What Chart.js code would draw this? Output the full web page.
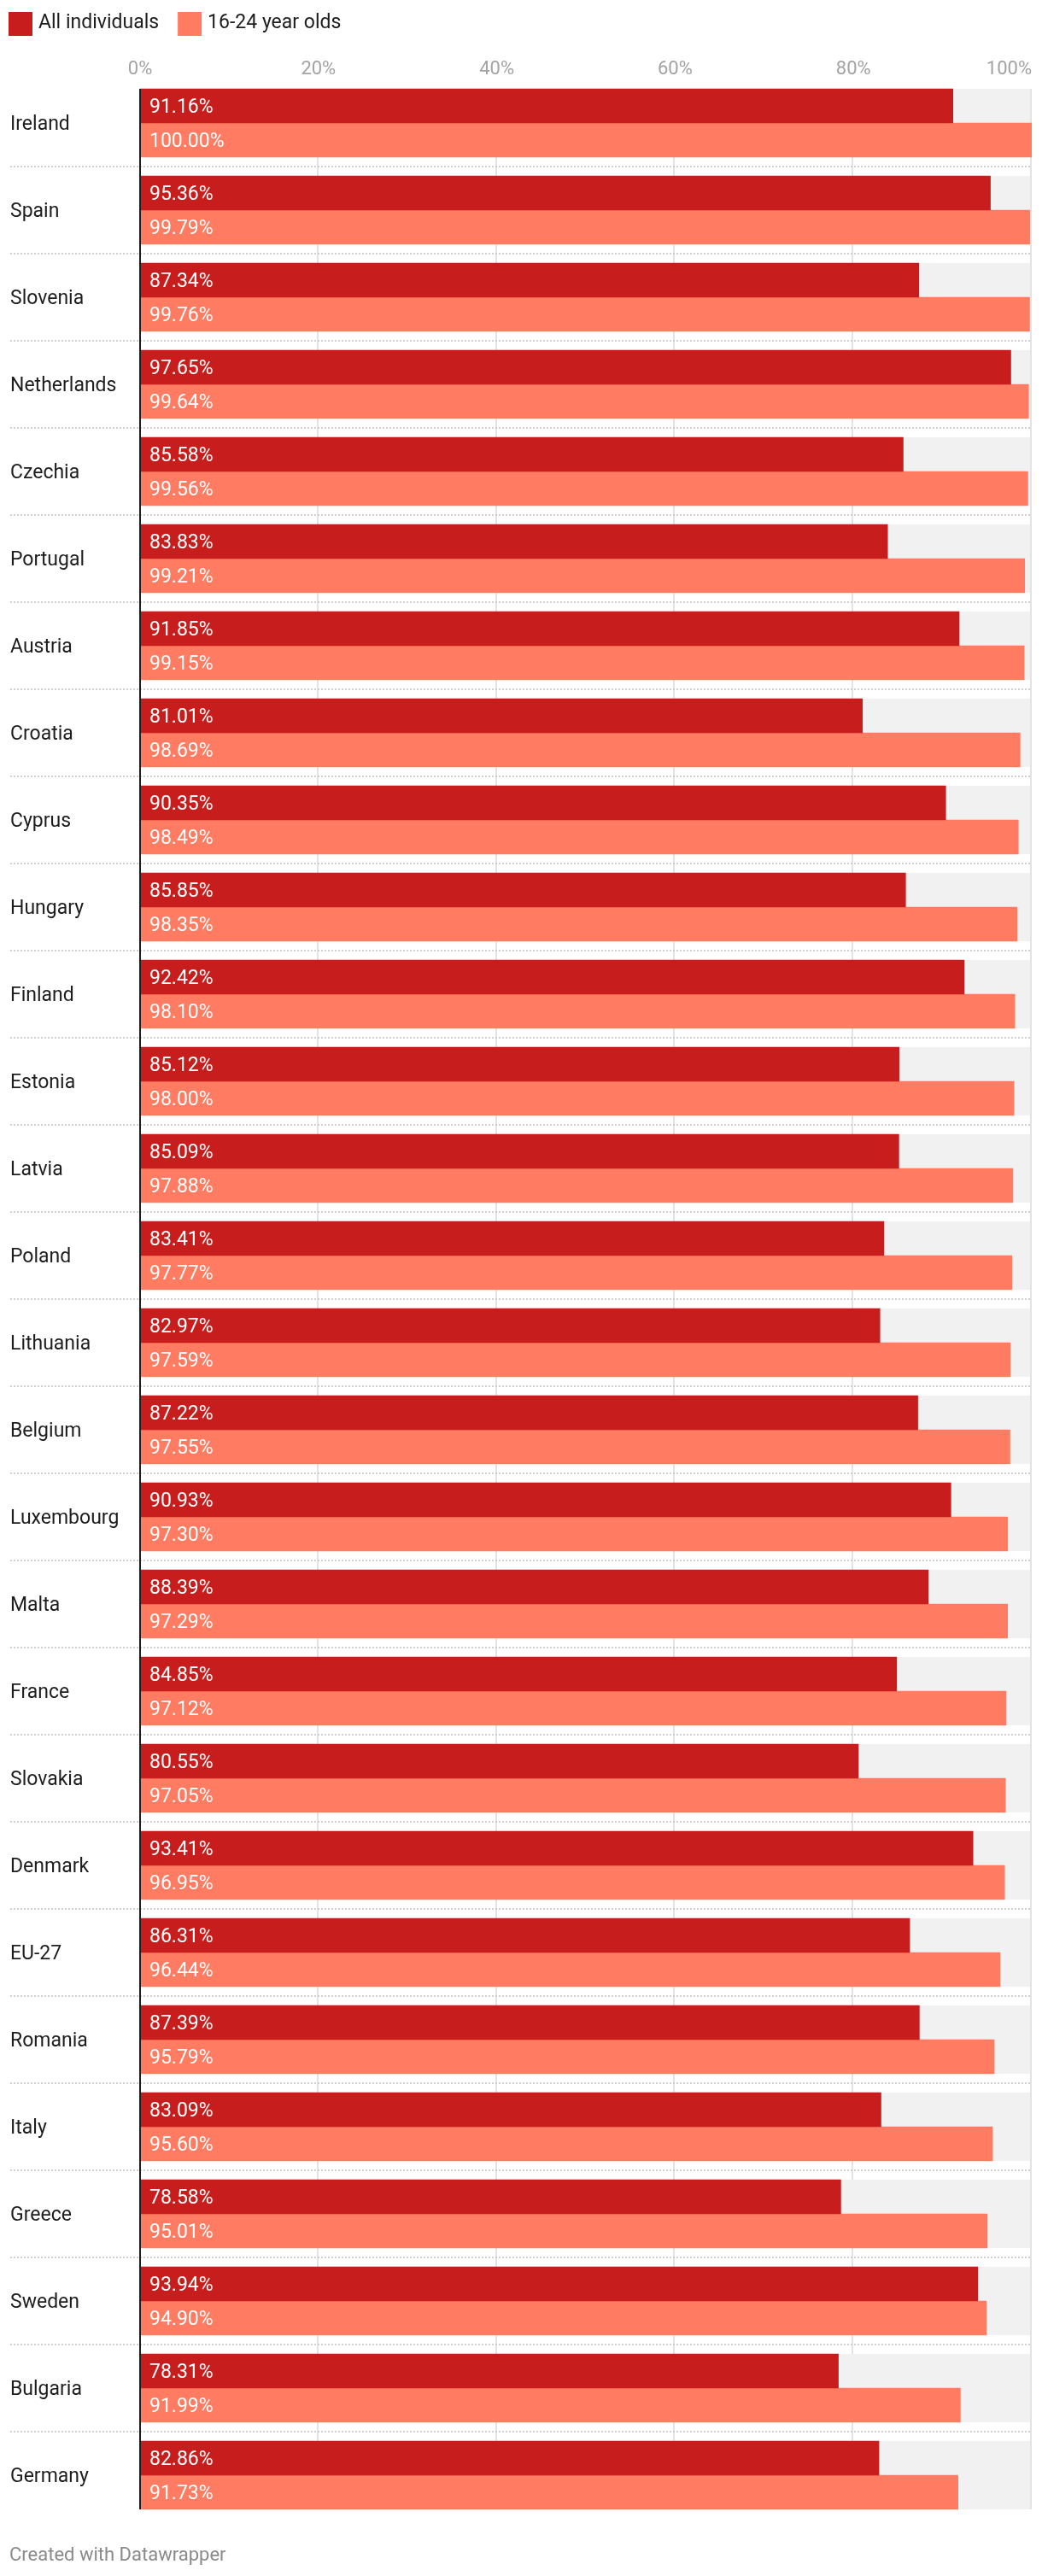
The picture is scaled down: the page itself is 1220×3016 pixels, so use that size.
<!DOCTYPE html>
<html>
<head>
<meta charset="utf-8">
<title>Internet use, all individuals vs 16-24 year olds</title>
<script src="https://cdn.jsdelivr.net/npm/chart.js@4/dist/chart.umd.min.js"></script>
<style>
  html, body { margin:0; padding:0; background:#fff; }
  #wrap { position:relative; width:1220px; height:3016px; }
</style>
</head>
<body>
<div id="wrap"><canvas id="chart"></canvas></div>
<script>
'use strict';

// ── data ──────────────────────────────────────────
const COUNTRIES = [
  'Ireland','Spain','Slovenia','Netherlands','Czechia','Portugal','Austria',
  'Croatia','Cyprus','Hungary','Finland','Estonia','Latvia','Poland',
  'Lithuania','Belgium','Luxembourg','Malta','France','Slovakia','Denmark',
  'EU-27','Romania','Italy','Greece','Sweden','Bulgaria','Germany'
];
const ALL_INDIVIDUALS = [
  91.16, 95.36, 87.34, 97.65, 85.58, 83.83, 91.85,
  81.01, 90.35, 85.85, 92.42, 85.12, 85.09, 83.41,
  82.97, 87.22, 90.93, 88.39, 84.85, 80.55, 93.41,
  86.31, 87.39, 83.09, 78.58, 93.94, 78.31, 82.86
];
const YOUNG_16_24 = [
  100.00, 99.79, 99.76, 99.64, 99.56, 99.21, 99.15,
  98.69, 98.49, 98.35, 98.10, 98.00, 97.88, 97.77,
  97.59, 97.55, 97.30, 97.29, 97.12, 97.05, 96.95,
  96.44, 95.79, 95.60, 95.01, 94.90, 91.99, 91.73
];
const SERIES_NAMES = ['All individuals', '16-24 year olds'];
const X_TICKS = [0, 20, 40, 60, 80, 100];

const COLORS = ['#c71e1d', '#ff7b61'];
const FONT = 'Roboto, "Noto Sans", sans-serif';

// ── decorations drawn behind the bars ─────────────
const backdrop = {
  id: 'backdrop',
  beforeDatasetsDraw(chart) {
    const { ctx, scales: { x, y } } = chart;
    const first = chart.getDatasetMeta(0).data[0];
    const last  = chart.getDatasetMeta(1).data[COUNTRIES.length - 1];
    const top = first.y - first.height / 2;
    const bottom = last.y + last.height / 2;
    ctx.save();

    // vertical grid
    ctx.strokeStyle = '#e3e3e3';
    ctx.lineWidth = 2;
    X_TICKS.slice(1).forEach(t => {
      const px = Math.round(x.getPixelForValue(t)) - 1;
      ctx.beginPath(); ctx.moveTo(px, top); ctx.lineTo(px, bottom); ctx.stroke();
    });

    // dotted row separators
    ctx.strokeStyle = '#cfcfcf';
    ctx.setLineDash([2, 2]);
    for (let i = 0; i < COUNTRIES.length - 1; i++) {
      const yy = (y.getPixelForValue(i) + y.getPixelForValue(i + 1)) / 2;
      ctx.beginPath(); ctx.moveTo(12, yy); ctx.lineTo(x.getPixelForValue(100), yy); ctx.stroke();
    }
    ctx.setLineDash([]);

    // grey 100% tracks
    ctx.fillStyle = '#f1f1f1';
    [0, 1].forEach(d => {
      chart.getDatasetMeta(d).data.forEach(bar => {
        const x0 = x.getPixelForValue(0), x1 = x.getPixelForValue(100);
        ctx.fillRect(x0, bar.y - bar.height / 2, x1 - x0 - 2, bar.height);
      });
    });
    ctx.restore();
  }
};

// ── labels, axis line, legend, footer ─────────────
const overlay = {
  id: 'overlay',
  afterDatasetsDraw(chart) {
    const { ctx, scales: { x, y } } = chart;
    const first = chart.getDatasetMeta(0).data[0];
    const last  = chart.getDatasetMeta(1).data[COUNTRIES.length - 1];
    const x0 = x.getPixelForValue(0);
    ctx.save();

    // zero axis
    ctx.fillStyle = '#1f1f1f';
    ctx.fillRect(x0 - 1, first.y - first.height / 2, 2, last.y + last.height / 2 - (first.y - first.height / 2));

    // values inside bars
    ctx.font = `23px ${FONT}`;
    ctx.fillStyle = '#fff';
    ctx.textAlign = 'left';
    ctx.textBaseline = 'alphabetic';
    [ALL_INDIVIDUALS, YOUNG_16_24].forEach((vals, d) => {
      chart.getDatasetMeta(d).data.forEach((bar, i) => {
        ctx.fillText(vals[i].toFixed(2) + '%', x0 + 11, bar.y + 8);
      });
    });

    // country names
    ctx.fillStyle = '#1d1d1d';
    COUNTRIES.forEach((c, i) => ctx.fillText(c, 12, y.getPixelForValue(i) + 8));

    // x ticks on top
    ctx.font = `22px ${FONT}`;
    ctx.fillStyle = '#a3a3a3';
    X_TICKS.forEach((t, i) => {
      ctx.textAlign = i === X_TICKS.length - 1 ? 'right' : 'center';
      const px = x.getPixelForValue(t) + (i === X_TICKS.length - 1 ? 0 : 0);
      ctx.fillText(t + '%', px, 87);
    });

    // legend
    ctx.font = `23px ${FONT}`;
    ctx.textAlign = 'left';
    let lx = 10;
    SERIES_NAMES.forEach((name, i) => {
      ctx.fillStyle = COLORS[i];
      ctx.fillRect(lx, 14, 28, 28);
      ctx.fillStyle = '#1d1d1d';
      ctx.fillText(name, lx + 35, 33);
      lx += 35 + ctx.measureText(name).width + 22;
    });

    // footer
    ctx.font = `22px ${FONT}`;
    ctx.fillStyle = '#8a8a8a';
    ctx.fillText('Created with Datawrapper', 11, 2998);
    ctx.restore();
  }
};

// ── chart ─────────────────────────────────────────
new Chart(document.getElementById('chart'), {
  type: 'bar',
  data: {
    labels: COUNTRIES,
    datasets: [
      { label: SERIES_NAMES[0], data: ALL_INDIVIDUALS, backgroundColor: COLORS[0], barThickness: 40 },
      { label: SERIES_NAMES[1], data: YOUNG_16_24, backgroundColor: COLORS[1], barThickness: 40 },
    ]
  },
  options: {
    indexAxis: 'y',
    responsive: true, maintainAspectRatio: false,
    animation: false,
    layout: { padding: { left: 164, right: 12, top: 93, bottom: 67 } },
    plugins: { legend: { display: false }, tooltip: { enabled: false } },
    scales: {
      x: { display: false, min: 0, max: 100 },
      y: { display: false, offset: true }
    }
  },
  plugins: [backdrop, overlay]
});
</script>
</body>
</html>
